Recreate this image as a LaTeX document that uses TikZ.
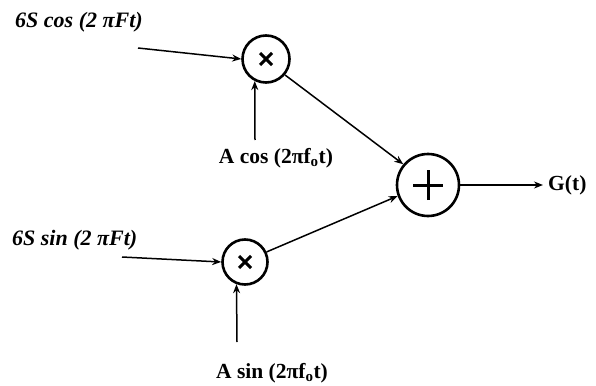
\documentclass[tikz,border=0pt]{standalone}
\usepackage{fontspec}
\setmainfont{Liberation Serif}
\usetikzlibrary{arrows.meta}
\begin{document}
\begin{tikzpicture}[x=1pt,y=-1pt,
  op/.style={circle,draw,line width=2.6pt,inner sep=0pt},
  conn/.style={line width=1.5pt,-{Stealth[length=9pt,width=7pt]}},
  inlab/.style={font=\fontsize{22}{24}\selectfont\bfseries\itshape,inner sep=0pt},
  reflab/.style={font=\fontsize{21.5}{23}\selectfont\bfseries,inner sep=0pt}]
\useasboundingbox (0,0) rectangle (596,385);
\fill[white] (0,0) rectangle (596,385);
\node[op,minimum size=47pt] (m1) at (266,59) {};
\node[op,minimum size=45pt] (m2) at (245,262) {};
\node[op,minimum size=62pt] (s) at (428,185) {};
\foreach \n in {m1,m2}
  \draw[line width=3pt] ([shift={(-6pt,-6pt)}]\n.center) -- ([shift={(6pt,6pt)}]\n.center)
    ([shift={(-6pt,6pt)}]\n.center) -- ([shift={(6pt,-6pt)}]\n.center);
\draw[line width=3pt] ([xshift=-15pt]s.center) -- ([xshift=15pt]s.center)
  ([yshift=-15pt]s.center) -- ([yshift=15pt]s.center);
\node[inlab,anchor=west] (t1) at (15,22) {6S cos (2 πFt)};
\node[inlab,anchor=west] (t2) at (12,240) {6S sin (2 πFt)};
\node[reflab] (r1) at (276,158) {A cos (2πf\textsubscript{o}t)};
\node[reflab,anchor=south] (r2) at (272,383) {A sin (2πf\textsubscript{o}t)};
\node[reflab,anchor=west] (g) at (548,185) {G(t)};
\coordinate (a1) at (138,48);
\coordinate (a2) at (122,257);
\coordinate (v1) at (255,140);
\coordinate (v2) at (237,342);
\coordinate (o) at (543,185);
\draw[conn] (a1) -- (m1.west);
\draw[conn] (a2) -- (m2.west);
\draw[conn] (v1) -- (m1.243);
\draw[conn] (v2) -- (m2.249);
\draw[conn] (m1.-40) -- (s.140);
\draw[conn] (m2.25) -- (s.200);
\draw[conn] (s.east) -- (o);
\end{tikzpicture}
\end{document}
